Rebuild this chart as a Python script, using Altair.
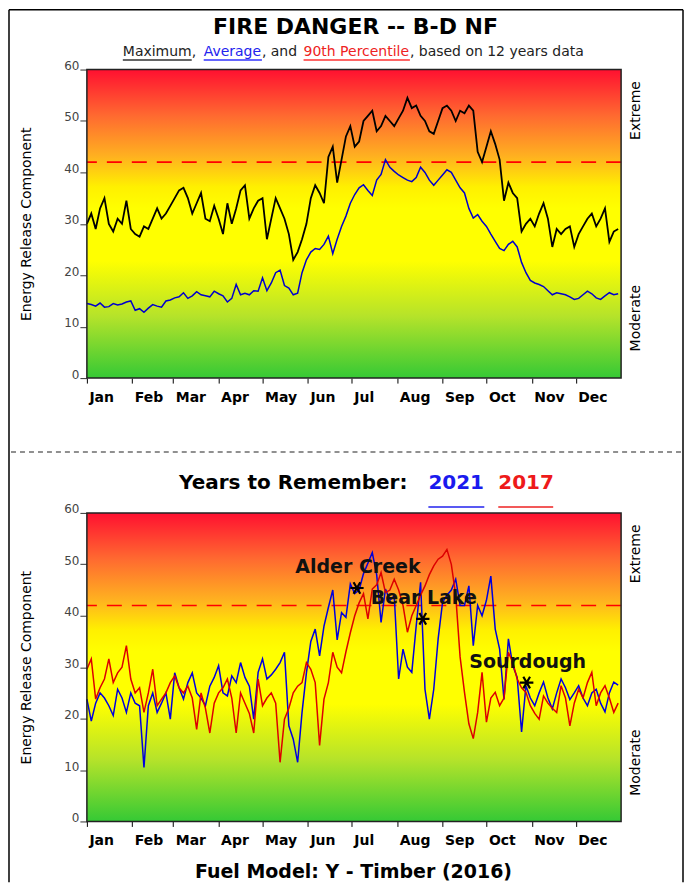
import json
import altair as alt
import pandas as pd

# ---------------- data ----------------
MONTHS = ["Jan", "Feb", "Mar", "Apr", "May", "Jun", "Jul", "Aug", "Sep", "Oct", "Nov", "Dec"]
MONTH_STARTS = [1, 32, 60, 91, 121, 152, 182, 213, 244, 274, 305, 335]
DAY_STEP = 3  # values below are read every 3rd day of the year, starting Jan 1

MAX_ERC = [30, 32, 29, 33, 35, 30, 28.5, 31, 30, 34.5,
           29, 28, 27.5, 29.5, 29, 31, 33, 31, 32, 33.5,
           35, 36.5, 37, 35, 32, 34, 36, 31, 30.5, 33.5,
           31, 28, 34, 30, 33, 36.5, 37.5, 31, 33, 34.5,
           35, 27, 31, 35, 33, 31, 28, 23, 24.5, 27,
           30, 35, 37.5, 36, 34, 43, 45, 38, 42.5, 47,
           49, 45, 46, 50, 51, 52, 48, 49, 51, 50,
           49, 50.5, 52, 54.5, 52.5, 53, 51, 50, 48, 47.5,
           50, 52.5, 53, 52, 50, 52, 51.5, 53, 52, 44,
           42, 45, 48, 45.5, 42.5, 34.5, 38, 36, 35, 28.5,
           30, 31, 29.5, 32, 34, 31, 25.5, 29, 28, 29,
           29.5, 25.5, 28, 29.5, 31, 32, 29.5, 31, 33, 26.5,
           28.5, 29]

AVG_ERC = [14.5, 14.3, 14, 14.6, 13.8, 13.9, 14.5, 14.2, 14.4, 14.8,
           15, 13.2, 13.5, 12.8, 13.6, 14.3, 14, 13.8, 15, 15.2,
           15.6, 15.8, 16.6, 15.5, 16, 16.8, 16.2, 16, 15.8, 16.9,
           16.4, 16, 14.8, 15.5, 18.2, 16.2, 16.5, 16.2, 17, 16.9,
           19.5, 17, 18.5, 20.5, 21, 18, 17.5, 16.2, 16.5, 20.5,
           23, 24.5, 25.2, 25, 26, 27.6, 24.2, 27, 29.5, 31.5,
           34, 35.7, 37, 37.6, 36.5, 35.5, 38.5, 39.6, 42.5, 41,
           40.2, 39.5, 39, 38.5, 38.2, 39, 41, 40, 38.5, 37.5,
           38.5, 39.5, 40.5, 40, 38.5, 37, 36, 33, 31.1, 31.8,
           30.5, 29.5, 28, 26.6, 25.2, 24.8, 26, 26.6, 25.5, 22.5,
           20.5, 19, 18.5, 18.2, 17.8, 17, 16.2, 16.6, 16.4, 16.2,
           15.8, 15.3, 15.5, 16.2, 16.9, 16.4, 15.6, 15.3, 16, 16.6,
           16.2, 16.4]

ERC_2021 = [23.8, 19.5, 23, 25, 24, 22.5, 20.6, 25.7, 24, 21.2,
            25, 23, 22.5, 10.5, 22.5, 25, 21.2, 23, 25, 19.9,
            28.9, 26, 23.8, 27, 28.9, 25, 24, 22.5, 26.3, 28,
            30.3, 25, 24.4, 28.3, 27, 30.9, 28, 26.3, 19.9, 29,
            31.6, 27.7, 28.5, 29.6, 30.9, 32.9, 18.6, 16, 11.5, 21.2,
            28.9, 35, 37.4, 32.2, 38, 41.6, 45, 35.3, 40.6, 39.7,
            46.2, 44.3, 45, 48.2, 50.2, 52.3, 48, 38.7, 45.2, 43,
            43.9, 27.7, 33.5, 30, 29, 38, 46.5, 25.7, 19.9, 25.7,
            35.5, 42.6, 44, 45, 47.1, 42, 42, 45.8, 34.2, 42,
            40, 43, 47.7, 37.4, 33.5, 23.7, 35.5, 30.3, 28, 17.4,
            26.4, 24, 22.5, 25, 27.1, 24, 21.9, 25, 27.7, 26,
            23.7, 25, 26.4, 24, 22.5, 25, 25.7, 23, 21.3, 25,
            27.1, 26.5]

ERC_2017 = [29.6, 31.6, 23.8, 26, 27.7, 31.6, 27, 28.9, 30, 34.2,
            27.7, 25, 26, 21.2, 25, 29.6, 22.5, 23.8, 25, 27,
            28.3, 26, 25, 26.3, 24, 17.9, 25, 22, 17.2, 23,
            25, 26, 27.7, 24, 17.2, 25, 23, 21, 17.2, 27.7,
            22.5, 24, 25, 23, 11.5, 19.9, 22, 25, 26.3, 27,
            30.9, 29.6, 27, 14.8, 23.8, 27, 32.9, 30, 28.9, 33,
            36.7, 40, 42.5, 44.3, 39.4, 45.2, 46, 48.4, 44.5, 45,
            47.1, 45, 42, 36.8, 40, 42, 44, 45.8, 48, 49.7,
            51, 51.6, 52.9, 50, 44, 32, 25.1, 19, 16.1, 21.2,
            29, 19.3, 24, 25.1, 22.5, 24, 32.9, 30.9, 27.7, 26,
            25.1, 22.5, 21, 19.9, 24.4, 23, 22, 21.2, 26.4, 24,
            18.6, 23, 25.7, 24, 27, 29, 22.5, 25, 26.4, 24,
            21.2, 23]

EVENTS = ["Alder Creek", "Bear Lake", "Sourdough"]
EVENT_DAY = [185.5, 230.5, 301.5]
EVENT_ERC = [45.4, 39.4, 27.0]

THRESHOLD = 42

# ---------------- tables ----------------
def series(vals):
    return pd.DataFrame({"day": [1 + DAY_STEP * i for i in range(len(vals))], "erc": vals})

top_max = series(MAX_ERC)
top_avg = series(AVG_ERC)
bot_21 = series(ERC_2021)
bot_17 = series(ERC_2017)
events = pd.DataFrame({"name": EVENTS, "day": EVENT_DAY, "erc": EVENT_ERC})
bg = pd.DataFrame({"x0": [1], "x1": [366], "y0": [0], "y1": [60]})
thr = pd.DataFrame({"erc": [THRESHOLD]})
one = pd.DataFrame({"a": [0]})

W, H = 535, 309
TFONT = "DejaVu Sans"

xs = alt.Scale(domain=[1, 366], nice=False, zero=False)
ys = alt.Scale(domain=[0, 60], nice=False)

label_expr = f"{json.dumps(MONTHS)}[indexof({json.dumps(MONTH_STARTS)}, datum.value)]"
x_axis = alt.Axis(values=MONTH_STARTS, labelExpr=label_expr, title=None, grid=False,
                  domain=False, tickSize=5, tickColor="#000", labelFont=TFONT,
                  labelFontSize=14, labelFontWeight="bold", labelColor="#000",
                  labelAlign="left", labelPadding=7, labelOffset=2, labelOverlap=False,
                  labelBound=False, labelFlush=False)
y_axis = alt.Axis(values=[0, 10, 20, 30, 40, 50, 60], title="Energy Release Component",
                  grid=False, domain=False, tickSize=7, tickColor="#333", labelFont=TFONT,
                  labelFontSize=12, labelColor="#444", labelBaseline="alphabetic",
                  labelPadding=1, labelOverlap=False, labelFlush=False, titleFont=TFONT,
                  titleFontSize=14, titleFontWeight="normal", titleColor="#000",
                  titlePadding=30)

grad = alt.LinearGradient(
    gradient="linear", x1=0, x2=0, y1=0, y2=1,
    stops=[alt.GradientStop(offset=0.0, color="#ff1030"),
           alt.GradientStop(offset=0.15, color="#ff6a30"),
           alt.GradientStop(offset=0.28, color="#ffb020"),
           alt.GradientStop(offset=0.38, color="#fff000"),
           alt.GradientStop(offset=0.45, color="#ffff00"),
           alt.GradientStop(offset=0.62, color="#ffff00"),
           alt.GradientStop(offset=0.8, color="#b5e32a"),
           alt.GradientStop(offset=1.0, color="#35c935")])


def panel_base():
    back = alt.Chart(bg).mark_rect(color=grad).encode(
        x=alt.X("x0:Q", scale=xs, axis=x_axis), x2="x1",
        y=alt.Y("y0:Q", scale=ys, axis=y_axis), y2="y1")
    rule = alt.Chart(thr).mark_rule(color="#ff0000", strokeWidth=1.6, strokeDash=[15, 10]).encode(
        y=alt.Y("erc:Q", scale=ys, axis=y_axis))
    return back, rule


def frame():
    return alt.Chart(bg).mark_rect(filled=False, stroke="#222", strokeWidth=1.5).encode(
        x=alt.X("x0:Q", scale=xs, axis=x_axis), x2="x1",
        y=alt.Y("y0:Q", scale=ys, axis=y_axis), y2="y1")


def line(df, color, width=1.6):
    return alt.Chart(df).mark_line(interpolate="linear", color=color, strokeWidth=width).encode(
        x=alt.X("day:Q", scale=xs, axis=x_axis), y=alt.Y("erc:Q", scale=ys, axis=y_axis))


def txt(text, x, y, size, color="#000", weight="normal", align="left", font=TFONT):
    return alt.Chart(one).mark_text(text=text, align=align, baseline="alphabetic", font=font,
                                    fontSize=size, fontWeight=weight, color=color).encode(
        x=alt.value(x), y=alt.value(y))


def vtxt(text, x, y):
    return alt.Chart(one).mark_text(text=text, align="center", baseline="middle", font=TFONT,
                                    fontSize=14, color="#000", angle=270).encode(
        x=alt.value(x), y=alt.value(y))


def hline(x1, x2, y, color, width=1.5, dash=None):
    kw = dict(color=color, strokeWidth=width)
    if dash:
        kw["strokeDash"] = dash
    return alt.Chart(one).mark_rule(**kw).encode(x=alt.value(x1), x2=alt.value(x2), y=alt.value(y))


def vline(x, y1, y2, color="#000", width=1.5):
    return alt.Chart(one).mark_rule(color=color, strokeWidth=width).encode(
        x=alt.value(x), y=alt.value(y1), y2=alt.value(y2))


# ---------------- top panel ----------------
back, rule = panel_base()
SUB = 14
sub_y = -14
top_layers = [
    back, rule,
    line(top_max, "#000000", 1.8),
    line(top_avg, "#0000cc", 1.5),
    frame(),
    vtxt("Extreme", 550, 41), vtxt("Moderate", 550, 249),
    txt("FIRE DANGER -- B-D NF", 269, -36, 22, weight="bold", align="center"),
    txt("Maximum", 36, sub_y, SUB, color="#222"),
    txt(",", 36 + 69, sub_y, SUB, color="#222"),
    txt("Average", 117, sub_y, SUB, color="#2222ee"),
    txt(", and", 117 + 58.3, sub_y, SUB, color="#222"),
    txt("90th Percentile", 217, sub_y, SUB, color="#ee2222"),
    txt(", based on 12 years data", 217 + 106.5, sub_y, SUB, color="#222"),
    hline(36, 36 + 69, -9.5, "#333"),
    hline(117, 117 + 58.3, -9.5, "#3333ff"),
    hline(217, 217 + 106.5, -9.5, "#ff3333"),
    # figure border and separator
    vline(-78, -60, 814), vline(597, -60, 814), hline(-78, 597, -60, "#000"),
    hline(-76, 597, 383, "#222", 1.2, [5, 4]),
    txt("Years to Remember:", 321, 420, 20, weight="bold", align="right"),
    txt("2021", 342, 420, 20, color="#1a1aee", weight="bold"),
    txt("2017", 412, 420, 20, color="#ee1a1a", weight="bold"),
    hline(342, 398, 438, "#2222ee", 1.5),
    hline(412, 467, 438, "#ee2222", 1.5),
]
top = alt.layer(*top_layers).properties(width=W, height=H)

# ---------------- bottom panel ----------------
back2, rule2 = panel_base()
ast = "M-1,0L1,0M-0.5,-0.866L0.5,0.866M-0.5,0.866L0.5,-0.866"
pts = alt.Chart(events).mark_point(shape=ast, size=180, filled=False, stroke="#000",
                                   strokeWidth=2.2, opacity=1).encode(
    x=alt.X("day:Q", scale=xs, axis=x_axis), y=alt.Y("erc:Q", scale=ys, axis=y_axis))
labs = alt.Chart(events).mark_text(font=TFONT, fontSize=19, fontWeight="bold", color="#111",
                                   baseline="middle", dy=-21, dx=1).encode(
    x=alt.X("day:Q", scale=xs, axis=x_axis), y=alt.Y("erc:Q", scale=ys, axis=y_axis),
    text="name:N")
bottom_layers = [
    back2, rule2,
    line(bot_21, "#0000dd", 1.5),
    line(bot_17, "#dd0000", 1.5),
    frame(),
    pts, labs,
    vtxt("Extreme", 550, 41), vtxt("Moderate", 550, 250),
    txt("Fuel Model: Y - Timber (2016)", 267, 366, 19, weight="bold", align="center"),
]
bottom = alt.layer(*bottom_layers).properties(width=W, height=H)

chart = alt.vconcat(top, bottom, spacing=135, bounds="flush").properties(
    padding=0, background="white"
).configure_view(stroke=None)

chart.save("out.html", embed_options={"renderer": "svg", "actions": False})
